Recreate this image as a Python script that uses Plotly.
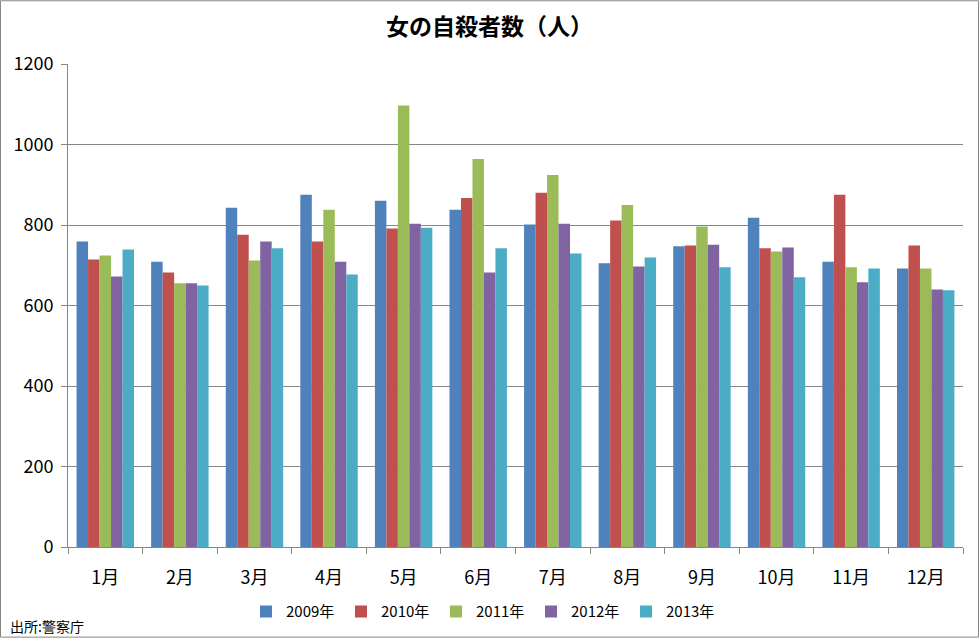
import plotly.graph_objects as go

months = ["1月", "2月", "3月", "4月", "5月", "6月", "7月", "8月", "9月", "10月", "11月", "12月"]
years = ["2009年", "2010年", "2011年", "2012年", "2013年"]
v2009 = [759, 709, 843, 875, 860, 838, 801, 705, 747, 818, 709, 692]
v2010 = [714, 682, 776, 759, 791, 867, 880, 811, 749, 742, 875, 749]
v2011 = [724, 655, 712, 838, 1097, 964, 924, 850, 796, 734, 695, 692]
v2012 = [672, 655, 759, 709, 803, 682, 803, 697, 751, 744, 658, 640]
v2013 = [739, 650, 742, 677, 793, 742, 729, 719, 695, 670, 692, 638]
series = [v2009, v2010, v2011, v2012, v2013]
colors = ["#4F81BD", "#C0504D", "#9BBB59", "#8064A2", "#4BACC6"]

FONT = "Noto Sans CJK JP, Liberation Sans, sans-serif"

fig = go.Figure()
for name, vals, c in zip(years, series, colors):
    fig.add_trace(go.Bar(x=months, y=vals, name=name, marker=dict(color=c, line=dict(width=0))))

W, H = 979, 640
L, R, T, B = 68, 16, 64, 91
pw, ph = W - L - R, H - T - B

fig.update_layout(
    width=W, height=H,
    margin=dict(l=L, r=R, t=T, b=B),
    paper_bgcolor="white", plot_bgcolor="white",
    barmode="group", bargap=0.23, bargroupgap=0,
    font=dict(family=FONT, color="black", size=17),
    title=dict(text="<b>女の自殺者数（人）</b>", x=0.5, xanchor="center",
               y=1 - 27 / H, yanchor="middle", font=dict(size=23, family=FONT)),
    showlegend=True,
    legend=dict(orientation="h", x=(246 - L) / pw, xanchor="left",
                y=(H - B - 614) / ph, yanchor="middle",
                font=dict(size=15, family=FONT), itemwidth=30, traceorder="normal",
                entrywidth=50, entrywidthmode="pixels"),
    xaxis=dict(showline=True, linecolor="#868686", linewidth=1,
               ticks="outside", tickson="boundaries", ticklen=6, tickcolor="#868686",
               tickfont=dict(size=18), showgrid=False, ticklabelstandoff=14),
    yaxis=dict(range=[0, 1200], dtick=200, showline=True, linecolor="#868686", linewidth=1,
               ticks="outside", ticklen=6, tickcolor="#868686",
               gridcolor="#868686", gridwidth=1, zeroline=False,
               tickfont=dict(size=18), ticklabelstandoff=4),
)

fig.add_annotation(text="出所:警察庁", xref="paper", yref="paper",
                   x=(8 - L) / pw, y=(H - B - 628) / ph, xanchor="left", yanchor="middle",
                   showarrow=False, font=dict(size=14, family=FONT))

fig.add_shape(type="rect", xref="paper", yref="paper",
              x0=(0.5 - L) / pw, x1=(W - 0.5 - L) / pw,
              y0=(H - B - (H - 0.5)) / ph, y1=(H - B - 0.5) / ph,
              line=dict(color="#868686", width=1), fillcolor="rgba(0,0,0,0)", layer="below")

fig.write_html("out.html", config={"displayModeBar": False},
               post_script="document.body.style.margin='0';document.body.style.overflow='hidden';")
